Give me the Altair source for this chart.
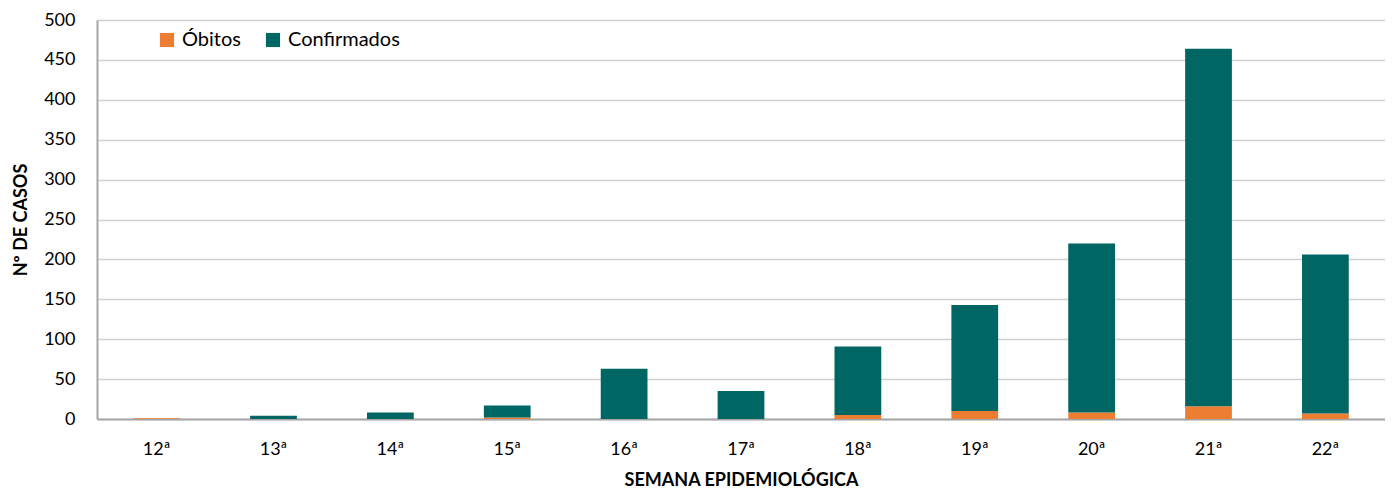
import altair as alt
import pandas as pd

semanas = ["12ª", "13ª", "14ª", "15ª", "16ª", "17ª", "18ª", "19ª", "20ª", "21ª", "22ª"]
obitos = [1, 0, 0, 2, 0, 0, 5, 10, 8, 16, 7]
totais = [1, 4, 8, 17, 63, 35, 91, 143, 220, 464, 206]
confirmados = [t - o for t, o in zip(totais, obitos)]

rows = []
for s, o, c in zip(semanas, obitos, confirmados):
    rows.append({"semana": s, "serie": "Óbitos", "valor": o, "ord": 0})
    rows.append({"semana": s, "serie": "Confirmados", "valor": c, "ord": 1})
df = pd.DataFrame(rows)

FONT = "Lato"

chart = alt.Chart(df).mark_bar().encode(
    x=alt.X("semana:N", sort=semanas,
            scale=alt.Scale(paddingInner=0.6, paddingOuter=0.31),
            axis=alt.Axis(title="SEMANA EPIDEMIOLÓGICA", labelAngle=0, ticks=False,
                          labelPadding=21, titlePadding=13, domainColor="#a6a6a6",
                          domainWidth=2, labelFontSize=18, titleFontSize=18,
                          titleFontWeight="bold", labelColor="#000", titleColor="#000")),
    y=alt.Y("valor:Q", stack="zero",
            scale=alt.Scale(domain=[0, 500], nice=False),
            axis=alt.Axis(title="Nº DE CASOS", values=list(range(0, 501, 50)), ticks=False,
                          labelPadding=22, titlePadding=13, domainColor="#a6a6a6",
                          domainWidth=2, gridColor="#d0d0d0", gridWidth=1.5,
                          labelFontSize=18, titleFontSize=18, titleFontWeight="bold",
                          labelColor="#000", titleColor="#000")),
    color=alt.Color("serie:N",
                    scale=alt.Scale(domain=["Óbitos", "Confirmados"], range=["#ED7D31", "#006663"]),
                    legend=alt.Legend(title=None, orient="none", legendX=60, legendY=10,
                                      direction="horizontal", symbolType="square",
                                      symbolSize=200, symbolStrokeWidth=0, labelFontSize=20,
                                      labelColor="#000", columnPadding=22, labelOffset=5)),
    order=alt.Order("ord:Q", sort="ascending"),
).properties(
    width=1288, height=399,
    autosize=alt.AutoSizeParams(type="none"),
    padding={"left": 89, "top": 12, "right": 0, "bottom": 70},
).configure_view(stroke=None).configure(font=FONT)

chart.save("out.html", embed_options={"renderer": "svg", "actions": False})
